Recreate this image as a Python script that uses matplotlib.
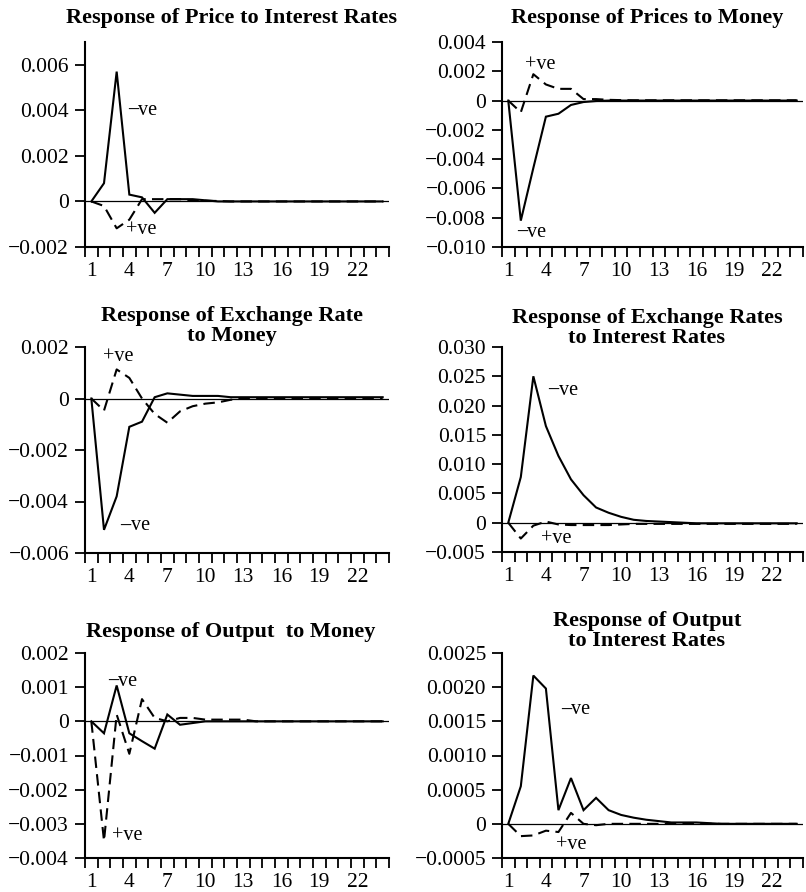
import matplotlib
matplotlib.use("Agg")
import matplotlib.pyplot as plt
import numpy as np

plt.rcParams['font.family'] = ['Liberation Serif', 'DejaVu Serif']

periods = list(range(1, 25))
xtick_labels = [1, 4, 7, 10, 13, 16, 19, 22]

titles = [
    "Response of Price to Interest Rates",
    "Response of Prices to Money",
    "Response of Exchange Rate\nto Money",
    "Response of Exchange Rates\nto Interest Rates",
    "Response of Output  to Money",
    "Response of Output\nto Interest Rates",
]

# solid line ("-ve" shock) and dashed line ("+ve" shock), periods 1..24
price_ir_neg = [0, 0.0008, 0.0057, 0.0003, 0.00018, -0.0005, 0.0001, 0.0001, 0.0001, 0.00005,
                0, 0, 0, 0, 0, 0, 0, 0, 0, 0, 0, 0, 0, 0]
price_ir_pos = [0, -0.0002, -0.00118, -0.0008, 0.0001, 0.0001, 0.0001, 0.0001, 0.00005, 0.00003,
                0.00002, 0, 0, 0, 0, 0, 0, 0, 0, 0, 0, 0, 0, 0]

price_m_neg = [0, -0.0082, -0.0046, -0.0011, -0.0009, -0.0003, -0.0001, -0.00003, 0, 0,
               0, 0, 0, 0, 0, 0, 0, 0, 0, 0, 0, 0, 0, 0]
price_m_pos = [0, -0.0008, 0.0018, 0.0011, 0.0008, 0.0008, 0.0001, 0.0001, 0.00005, 0.00003,
               0.00002, 0.00002, 0.00002, 0.00002, 0.00002, 0.00002, 0.00002, 0.00002, 0.00002,
               0.00002, 0.00002, 0.00002, 0.00002, 0.00002]

exch_m_neg = [0, -0.0051, -0.0038, -0.0011, -0.0009, 0.00005, 0.0002, 0.00015, 0.0001, 0.0001,
              0.0001, 0.00005, 0.00005, 0.00005, 0.00005, 0.00005, 0.00005, 0.00005, 0.00005,
              0.00005, 0.00005, 0.00005, 0.00005, 0.00005]
exch_m_pos = [0, -0.00047, 0.00113, 0.0008, 0.0, -0.0006, -0.00094, -0.0005, -0.0003, -0.0002,
              -0.00015, -0.00005, 0, 0, 0, 0, 0, 0, 0, 0, 0, 0, 0, 0]

exch_ir_neg = [0, 0.0078, 0.025, 0.0165, 0.0114, 0.0074, 0.0047, 0.0026, 0.0017, 0.001,
               0.0005, 0.0003, 0.0002, 0.0001, 0, -0.0001, -0.0001, -0.0001, -0.0001, -0.0001,
               -0.0001, -0.0001, -0.0001, -0.0001]
exch_ir_pos = [0, -0.0027, -0.0005, 0.0002, -0.0003, -0.0004, -0.0004, -0.0004, -0.0004, -0.0003,
               -0.0002, -0.0002, -0.0002, -0.0002, -0.0002, -0.0002, -0.0002, -0.0002, -0.0002,
               -0.0002, -0.0002, -0.0002, -0.0002, -0.0002]

out_m_neg = [0, -0.00035, 0.00105, -0.00035, -0.00058, -0.0008, 0.0002, -0.0001, -0.00005, 0,
             0, 0, 0, 0, 0, 0, 0, 0, 0, 0, 0, 0, 0, 0]
out_m_pos = [0, -0.0035, 0.0002, -0.00095, 0.00065, 0.0001, 0.0, 0.0001, 0.0001, 0.00005,
             0.00005, 0.00005, 0.00005, 0, 0, 0, 0, 0, 0, 0, 0, 0, 0, 0]

out_ir_neg = [0, 0.00055, 0.00217, 0.00198, 0.0002, 0.00067, 0.0002, 0.00038, 0.0002, 0.00013,
              0.00009, 0.00006, 0.00004, 0.00002, 0.00002, 0.00002, 0.00001, 0, 0, 0, 0, 0, 0, 0]
out_ir_pos = [0, -0.00018, -0.00017, -0.0001, -0.00012, 0.00016, 0.0, -0.00002, 0, 0,
              0, 0, 0, 0, 0, 0, 0, 0, 0, 0, 0, 0, 0, 0]

series = [
    (price_ir_neg, price_ir_pos),
    (price_m_neg, price_m_pos),
    (exch_m_neg, exch_m_pos),
    (exch_ir_neg, exch_ir_pos),
    (out_m_neg, out_m_pos),
    (out_ir_neg, out_ir_pos),
]

yticks = [
    [-0.002, 0, 0.002, 0.004, 0.006],
    [-0.010, -0.008, -0.006, -0.004, -0.002, 0, 0.002, 0.004],
    [-0.006, -0.004, -0.002, 0, 0.002],
    [-0.005, 0, 0.005, 0.010, 0.015, 0.020, 0.025, 0.030],
    [-0.004, -0.003, -0.002, -0.001, 0, 0.001, 0.002],
    [-0.0005, 0, 0.0005, 0.0010, 0.0015, 0.0020, 0.0025],
]
ylims = [(-0.002, 0.007), (-0.010, 0.004), (-0.006, 0.002),
         (-0.005, 0.030), (-0.004, 0.002), (-0.0005, 0.0025)]
ydec = [3, 3, 3, 3, 3, 4]

# label positions (x, y) for "-ve" (solid) and "+ve" (dashed)
neg_lab = [(3.9, 0.0040), (1.67, -0.0090), (3.3, -0.00494),
           (4.2, 0.0226), (2.3, 0.00118), (5.2, 0.00167)]
pos_lab = [(3.7, -0.00124), (2.33, 0.00244), (1.92, 0.00162),
           (3.6, -0.00274), (2.66, -0.00333), (4.83, -0.0003)]

W, H = 806, 892
fig = plt.figure(figsize=(W / 100, H / 100), dpi=100)

# axes boxes in pixels: left, right, top, bottom
boxes = [
    (85, 389, 42, 247),
    (502, 803, 42, 247),
    (85, 389, 347, 553),
    (502, 803, 347, 552),
    (85, 389, 653, 858),
    (502, 803, 653, 858),
]
title_pos = [(232, 18), (647, 18), (232, 326), (647, 328), (231, 632), (647, 631)]

for i in range(6):
    l, r, t, b = boxes[i]
    ax = fig.add_axes([l / W, 1 - b / H, (r - l) / W, (b - t) / H])
    neg, pos = series[i]
    ax.axhline(0, color='black', lw=0.9, zorder=1)
    ax.plot(periods, neg, color='black', lw=1.5, solid_joinstyle='miter', zorder=3)
    ax.plot(periods, pos, color='black', lw=1.5, dashes=(5.5, 3), zorder=2)
    ax.set_xlim(0.5, 24.5)
    ax.set_ylim(*ylims[i])
    ax.set_yticks(yticks[i])
    d = ydec[i]
    ax.set_yticklabels([('0' if v == 0 else f"{v:.{d}f}".replace('-', '\u2212')) for v in yticks[i]])
    ax.set_xticks(xtick_labels)
    ax.set_xticklabels([str(v) for v in xtick_labels])
    ax.set_xticks(np.arange(0.5, 25, 1), minor=True)
    ax.tick_params(axis='x', which='major', length=0, pad=11, labelsize=15.5)
    ax.tick_params(axis='x', which='minor', length=7.5, width=1.3, direction='out')
    ax.tick_params(axis='y', which='major', length=7.5, width=1.3, direction='out', pad=4, labelsize=15.5)
    for s in ['top', 'right']:
        ax.spines[s].set_visible(False)
    for s in ['left', 'bottom']:
        ax.spines[s].set_linewidth(1.5)
    dash = ax.text(neg_lab[i][0], neg_lab[i][1], "\u2013", fontsize=14.5, fontweight='bold',
                   ha='left', va='center')
    ax.annotate("ve", xy=(1, 0.5), xycoords=dash, fontsize=14.5, ha='left', va='center')
    ax.text(pos_lab[i][0], pos_lab[i][1], "+ve", fontsize=14.5, ha='left', va='center')
    fig.text(title_pos[i][0] / W, 1 - title_pos[i][1] / H, titles[i], fontsize=16,
             fontweight='bold', ha='center', va='center', linespacing=1.02)

fig.savefig("out.png", dpi=100)
